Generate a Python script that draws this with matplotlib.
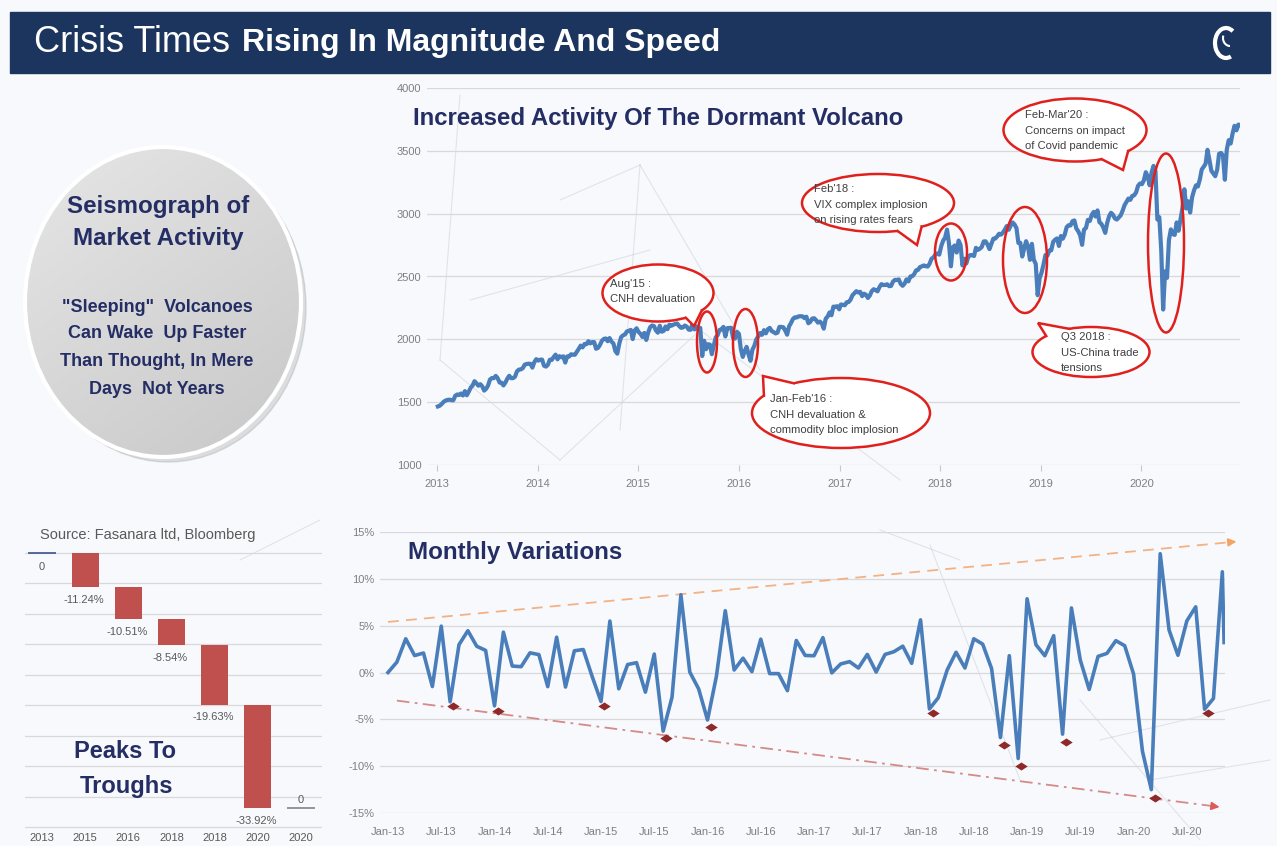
import matplotlib
matplotlib.use('Agg')
import matplotlib.pyplot as plt
from matplotlib.patches import Ellipse, Rectangle, Polygon, Arc
from matplotlib.colors import LinearSegmentedColormap
import numpy as np
import pandas as pd

W, H = 1277, 846

plt.rcParams['font.family'] = ['Liberation Sans', 'DejaVu Sans']

navy = '#242d64'
blue = '#4a7ebb'
grid_c = '#d9d9d9'
tick_c = '#7f7f7f'
red = '#e0201c'

# ---------------- data ----------------
# S&P 500, weekly closes (Fridays), 2013 - 2020
spx_2013 = [1466, 1472, 1486, 1503, 1513, 1518, 1520, 1516, 1515, 1551, 1561, 1557, 1569,
            1553, 1588, 1555, 1583, 1615, 1633, 1667, 1650, 1631, 1643, 1626, 1592, 1606,
            1632, 1680, 1692, 1691, 1709, 1691, 1656, 1655, 1633, 1656, 1687, 1710, 1691,
            1691, 1703, 1745, 1759, 1761, 1770, 1798, 1804, 1806, 1805, 1775, 1818, 1842]
spx_2014 = [1831, 1838, 1839, 1790, 1783, 1797, 1838, 1836, 1859, 1878, 1841, 1866, 1857,
            1865, 1815, 1864, 1863, 1881, 1878, 1877, 1900, 1924, 1950, 1936, 1963, 1961,
            1985, 1968, 1978, 1978, 1925, 1932, 1955, 1988, 2003, 2007, 1985, 2010, 1982,
            1967, 1906, 1886, 1964, 2018, 2032, 2039, 2063, 2068, 2075, 2002, 2070, 2088]
spx_2015 = [2058, 2044, 2019, 2051, 1995, 2055, 2097, 2110, 2105, 2071, 2053, 2108, 2061,
            2067, 2102, 2081, 2117, 2108, 2116, 2122, 2126, 2107, 2092, 2094, 2110, 2101,
            2077, 2076, 2127, 2079, 2103, 2077, 2091, 1867, 1989, 1921, 1961, 1958, 1882,
            1951, 2015, 2033, 2075, 2079, 2099, 2023, 2089, 2090, 2092, 2012, 2006, 2060]
spx_2016 = [2044, 1922, 1860, 1907, 1940, 1880, 1829, 1918, 1948, 1999, 2022, 2050, 2036,
            2073, 2048, 2081, 2091, 2065, 2058, 2047, 2053, 2099, 2099, 2096, 2071, 2037,
            2103, 2130, 2162, 2175, 2174, 2183, 2184, 2183, 2169, 2180, 2128, 2139, 2165,
            2168, 2153, 2133, 2141, 2126, 2085, 2164, 2182, 2214, 2192, 2260, 2259, 2264, 2239]
spx_2017 = [2277, 2275, 2271, 2295, 2297, 2316, 2351, 2367, 2383, 2373, 2378, 2344, 2363,
            2355, 2329, 2349, 2384, 2399, 2391, 2382, 2416, 2439, 2432, 2433, 2438, 2423,
            2425, 2459, 2473, 2472, 2477, 2441, 2426, 2443, 2477, 2461, 2500, 2502, 2519,
            2549, 2553, 2575, 2581, 2588, 2582, 2579, 2602, 2642, 2652, 2675, 2683, 2674]
spx_2018 = [2743, 2786, 2810, 2873, 2762, 2581, 2732, 2747, 2691, 2786, 2752, 2588, 2641,
            2604, 2656, 2670, 2670, 2663, 2728, 2712, 2721, 2735, 2779, 2780, 2754, 2718,
            2760, 2801, 2802, 2819, 2840, 2833, 2850, 2874, 2902, 2872, 2905, 2930, 2914,
            2885, 2767, 2768, 2659, 2723, 2781, 2736, 2633, 2760, 2633, 2600, 2351, 2486]
spx_2019 = [2532, 2596, 2671, 2665, 2707, 2708, 2776, 2793, 2803, 2743, 2822, 2801, 2834,
            2893, 2908, 2906, 2940, 2946, 2882, 2860, 2827, 2752, 2873, 2886, 2951, 2942,
            2990, 3014, 2977, 3026, 2932, 2919, 2889, 2847, 2926, 2979, 3007, 2992, 2962,
            2953, 2970, 2986, 3023, 3067, 3093, 3120, 3110, 3141, 3146, 3169, 3221, 3240]
spx_2020 = [3235, 3265, 3330, 3295, 3226, 3328, 3380, 3338, 2954, 2972, 2711, 2237, 2541,
            2489, 2790, 2875, 2837, 2831, 2930, 2864, 2955, 3044, 3194, 3041, 3098, 3009,
            3130, 3185, 3225, 3216, 3271, 3351, 3373, 3397, 3508, 3427, 3341, 3319, 3298,
            3348, 3477, 3483, 3465, 3270, 3510, 3585, 3558, 3638, 3699, 3663, 3709, 3703]

# monthly variations (%), Jan-13 .. Nov-20 plus the last partial reading
monthly_2013 = [0.00, 1.11, 3.60, 1.81, 2.08, -1.50, 4.95, -3.13, 2.97, 4.46, 2.80, 2.36]
monthly_2014 = [-3.56, 4.31, 0.69, 0.62, 2.10, 1.91, -1.51, 3.77, -1.55, 2.32, 2.45, -0.42]
monthly_2015 = [-3.10, 5.49, -1.74, 0.85, 1.05, -2.10, 1.97, -6.26, -2.64, 8.30, 0.05, -1.75]
monthly_2016 = [-5.07, -0.41, 6.60, 0.27, 1.53, 0.09, 3.56, -0.12, -0.12, -1.94, 3.42, 1.82]
monthly_2017 = [1.79, 3.72, -0.04, 0.91, 1.16, 0.48, 1.93, 0.05, 1.93, 2.22, 2.81, 0.98]
monthly_2018 = [5.62, -3.89, -2.69, 0.27, 2.16, 0.48, 3.60, 3.03, 0.43, -6.94, 1.79, -9.18]
monthly_2019 = [7.87, 2.97, 1.79, 3.93, -6.58, 6.89, 1.31, -1.81, 1.72, 2.04, 3.40, 2.86]
monthly_2020 = [-0.16, -8.41, -12.51, 12.68, 4.53, 1.84, 5.51, 7.01, -3.92, -2.77, 10.75]
monthly_last = 3.20
monthly_last_date = '2020-11-07'

# trough markers
trough_dates = ['2013-08-12', '2014-01-12', '2015-01-12', '2015-08-12', '2016-01-12', '2018-02-12',
                '2018-10-12', '2018-12-12', '2019-05-12', '2020-03-12', '2020-09-12']
trough_vals = [-3.6, -4.1, -3.6, -7.0, -5.8, -4.3, -7.7, -10.0, -7.4, -13.4, -4.3]

# trend channel (month offset, %)
upper_trend = [(0.0, 5.4), (95.9, 14.0)]
lower_trend = [(1.0, -3.0), (94.0, -14.4)]

# peaks to troughs waterfall
wf_labels = ['2013', '2015', '2016', '2018', '2018', '2020', '2020']
wf_changes = [0, -11.24, -10.51, -8.54, -19.63, -33.92, 0]


# ---------------- figure ----------------
fig = plt.figure(figsize=(W / 100, H / 100), dpi=100)
fig.patch.set_facecolor('#f7f9fc')


def px_axes(left, top, right, bottom, z):
    a = fig.add_axes([left / W, 1 - bottom / H, (right - left) / W, (bottom - top) / H], zorder=z)
    a.patch.set_alpha(0)
    return a


bg = fig.add_axes([0, 0, 1, 1], zorder=0)
bg.axis('off')

# faint network in the background
net = [((460, 95), (440, 360)), ((440, 360), (560, 460)), ((640, 165), (620, 430)), ((560, 200), (640, 165)),
       ((640, 165), (760, 370)), ((470, 300), (650, 250)), ((880, 530), (960, 560)), ((930, 545), (1020, 780)),
       ((1100, 740), (1270, 700)), ((1150, 780), (1270, 760)), ((1080, 700), (1200, 840)), ((240, 560), (320, 520)),
       ((700, 330), (900, 480)), ((560, 460), (700, 330))]
for a, b in net:
    bg.plot([a[0], b[0]], [a[1], b[1]], color='#9aa6b4', lw=0.8, alpha=0.25)

bg.add_patch(Rectangle((10, 12), 1260, 61, color='#1c355e', zorder=2))
bg.add_patch(Arc((1226, 43), 22, 30, theta1=70, theta2=300, color='white', lw=3, zorder=3))
bg.add_patch(Arc((1230, 38), 14, 16, theta1=90, theta2=200, color='white', lw=1.5, zorder=3))

# seismograph circle
bg.add_patch(Ellipse((168, 307), 276, 310, color='#9a9a9a', alpha=0.3, zorder=2))
circle = Ellipse((163, 302), 276, 310, facecolor='none', edgecolor='white', lw=3, zorder=4)
bg.add_patch(circle)
gy, gx = np.mgrid[0:1:100j, 0:1:100j]
grad_cmap = LinearSegmentedColormap.from_list('g', ['#e6e6e6', '#c8c8c8'])
im = bg.imshow(0.4 * gx + 0.6 * gy, extent=(25, 301, 457, 147), cmap=grad_cmap, aspect='auto', zorder=3)
im.set_clip_path(circle)
bg.set_xlim(0, W)
bg.set_ylim(H, 0)

bg.text(34, 43, 'Crisis Times', color='white', fontsize=26, va='center', ha='left', zorder=5)
bg.text(242, 43, 'Rising In Magnitude And Speed', color='white', fontsize=23,
        fontweight='bold', va='center', ha='left', zorder=5)

bg.text(158, 207, 'Seismograph of', color=navy, fontsize=17.4, fontweight='bold',
        ha='center', va='center', zorder=5)
bg.text(158, 239, 'Market Activity', color=navy, fontsize=17.4, fontweight='bold',
        ha='center', va='center', zorder=5)
for yy, line in zip([307, 334, 362, 389], ['"Sleeping"  Volcanoes', 'Can Wake  Up Faster',
                                            'Than Thought, In Mere', 'Days  Not Years']):
    bg.text(157, yy, line, color=navy, fontsize=13, fontweight='bold',
            ha='center', va='center', zorder=5)

bg.text(148, 535, 'Source: Fasanara ltd, Bloomberg', color='#595959', fontsize=10.5,
        ha='center', va='center')

# ---------------- top chart: index level ----------------
ax1 = px_axes(427, 88, 1240, 465, 2)
spx = spx_2013 + spx_2014 + spx_2015 + spx_2016 + spx_2017 + spx_2018 + spx_2019 + spx_2020
wk = pd.date_range('2013-01-04', periods=len(spx), freq='W-FRI')
wk_year = wk.year + (wk.dayofyear - 1) / 365.25
ax1.plot(wk_year, spx, color=blue, lw=3, solid_joinstyle='round')
ax1.set_xlim(2012.9, 2020.98)
ax1.set_ylim(1000, 4000)
ax1.set_yticks(range(1000, 4001, 500))
ax1.set_xticks(range(2013, 2021))
ax1.grid(axis='y', color=grid_c, lw=0.9)
ax1.set_axisbelow(True)
for s in ax1.spines.values():
    s.set_visible(False)
ax1.tick_params(axis='y', length=0, labelsize=8, labelcolor=tick_c, pad=4)
ax1.tick_params(axis='x', length=4, color='#c8c8c8', labelsize=8, labelcolor=tick_c, pad=6)

# ---------------- monthly variations ----------------
ax2 = px_axes(380, 532, 1225, 813, 2)
m_dates = list(pd.date_range('2013-01-01', periods=95, freq='MS')) + [pd.Timestamp(monthly_last_date)]
monthly = (monthly_2013 + monthly_2014 + monthly_2015 + monthly_2016 + monthly_2017 + monthly_2018
           + monthly_2019 + monthly_2020 + [monthly_last])


def month_pos(d):
    d = pd.Timestamp(d)
    return (d.year - 2013) * 12 + d.month - 1 + (d.day - 1) / 30.5


mx = [month_pos(d) for d in m_dates]
ax2.plot(mx, monthly, color=blue, lw=2.6, zorder=3, solid_joinstyle='round')
diamond = [(-1, 0), (0, 0.65), (1, 0), (0, -0.65)]
ax2.scatter([month_pos(d) for d in trough_dates], trough_vals, marker=diamond, s=80,
            color='#8e2a2a', zorder=4, linewidths=0)

(ux0, uy0), (ux1, uy1) = upper_trend
ax2.plot([ux0, ux1 - 0.8], [uy0, uy1 - 0.07], color='#f4b183', lw=1.3, ls=(0, (6, 4)), clip_on=False, zorder=2)
ax2.annotate('', xy=(ux1, uy1), xytext=(ux1 - 1.5, uy1 - 0.13),
             arrowprops=dict(arrowstyle='-|>', color='#f4a460', lw=1.2, mutation_scale=12),
             annotation_clip=False)
(lx0, ly0), (lx1, ly1) = lower_trend
ax2.plot([lx0, lx1 - 0.8], [ly0, ly1 + 0.1], color='#d48a88', lw=1.3, ls=(0, (7, 3, 1.5, 3)),
         clip_on=False, zorder=2)
ax2.annotate('', xy=(lx1, ly1), xytext=(lx1 - 1.5, ly1 + 0.18),
             arrowprops=dict(arrowstyle='-|>', color='#e05a5a', lw=1.2, mutation_scale=12),
             annotation_clip=False)

ax2.set_xlim(-0.9, 94.3)
ax2.set_ylim(-15, 15)
ax2.set_yticks(range(-15, 16, 5))
ax2.set_yticklabels([f'{v}%' for v in range(-15, 16, 5)])
tick_dates = pd.date_range('2013-01-01', '2020-07-01', freq='6MS')
ax2.set_xticks([month_pos(d) for d in tick_dates])
ax2.set_xticklabels([d.strftime('%b-%y') for d in tick_dates])
ax2.grid(axis='y', color=grid_c, lw=0.9)
ax2.set_axisbelow(True)
for s in ax2.spines.values():
    s.set_visible(False)
ax2.tick_params(axis='y', length=0, labelsize=8, labelcolor=tick_c, pad=4)
ax2.tick_params(axis='x', length=0, labelsize=8, labelcolor=tick_c, pad=10)

# ---------------- waterfall ----------------
ax3 = px_axes(25, 545, 322, 832, 2)
xs = np.arange(len(wf_labels))
ch = np.array(wf_changes)
ends = np.cumsum(ch)
starts = ends - ch
for i in xs:
    if ch[i] != 0:
        ax3.bar(i, ch[i], bottom=starts[i], width=0.63, color='#c0504d', zorder=3)
        ax3.annotate(f'{ch[i]:.2f}%', (i, ends[i]), xytext=(-1, -9), textcoords='offset points',
                     ha='center', va='center', fontsize=8, color='#595959')
    else:
        ax3.hlines(ends[i], i - 0.32, i + 0.32, color='#4a5f9a' if i == 0 else '#8c8c8c', lw=1.3, zorder=3)
        off = -10 if i == 0 else 6
        ax3.annotate('0', (i, ends[i]), xytext=(0, off), textcoords='offset points',
                     ha='center', va='center', fontsize=8, color='#595959')
ax3.set_xlim(-0.394, 6.486)
ax3.set_ylim(-91.66, 2.63)
ax3.set_yticks(range(-90, 1, 10))
ax3.set_yticklabels([])
ax3.set_xticks(xs)
ax3.set_xticklabels(wf_labels)
ax3.grid(axis='y', color=grid_c, lw=0.9)
ax3.set_axisbelow(True)
for s in ax3.spines.values():
    s.set_visible(False)
ax3.tick_params(axis='y', length=0)
ax3.tick_params(axis='x', length=0, labelsize=8, labelcolor='#595959', pad=1)

# ---------------- overlay: titles and call-outs ----------------
deco = fig.add_axes([0, 0, 1, 1], zorder=5)
deco.patch.set_alpha(0)
deco.axis('off')
deco.set_xlim(0, W)
deco.set_ylim(H, 0)

deco.text(413, 118, 'Increased Activity Of The Dormant Volcano', color=navy, fontsize=17.3,
          fontweight='bold', va='center')
deco.text(408, 552, 'Monthly Variations', color=navy, fontsize=17.4, fontweight='bold', va='center')
deco.text(125, 752, 'Peaks To', color=navy, fontsize=17, fontweight='bold', ha='center', va='center')
deco.text(126, 787, 'Troughs', color=navy, fontsize=17, fontweight='bold', ha='center', va='center')

# circles around the sell-offs
for (cx, cy, w, h) in [(707, 342, 20, 61), (745.5, 343, 25, 68), (951, 252, 32, 57),
                       (1025, 260, 44, 106), (1166, 243, 36, 179)]:
    deco.add_patch(Ellipse((cx, cy), w, h, facecolor='none', edgecolor=red, lw=1.8, zorder=3))


def bubble(cx, cy, w, h, tip, a1, a2, lines, tx, ty):
    deco.add_patch(Ellipse((cx, cy), w, h, facecolor='white', edgecolor=red, lw=1.8, zorder=4))

    def pt(a, r):
        t = np.radians(a)
        return cx + r * w / 2 * np.cos(t), cy - r * h / 2 * np.sin(t)

    p1, p2 = pt(a1, 1.0), pt(a2, 1.0)
    q1, q2 = pt(a1, 0.75), pt(a2, 0.75)
    deco.add_patch(Polygon([tip, p1, q1, q2, p2], closed=True, facecolor='white', edgecolor='none', zorder=5))
    deco.plot([p1[0], tip[0], p2[0]], [p1[1], tip[1], p2[1]], color=red, lw=1.8, zorder=6,
              solid_joinstyle='miter')
    for k, line in enumerate(lines):
        deco.text(tx, ty + k * 15.5, line, fontsize=8.1, color='#404040', va='center', ha='left', zorder=7)


bubble(658, 293, 111, 57, (694, 326), -60, -38, ["Aug'15 :", 'CNH devaluation'], 610, 284)
bubble(841, 413, 178, 70, (763, 376), 150, 122,
       ["Jan-Feb'16 :", 'CNH devaluation &', 'commodity bloc implosion'], 770, 399)
bubble(878, 203, 152, 58, (917, 245), -75, -55,
       ["Feb'18 :", 'VIX complex implosion', 'on rising rates fears'], 814, 189)
bubble(1091, 352, 117, 50, (1038, 323), 140, 112, ['Q3 2018 :', 'US-China trade', 'tensions'], 1061, 337)
bubble(1075, 130, 143, 63, (1123, 170), -68, -42,
       ["Feb-Mar'20 :", 'Concerns on impact', 'of Covid pandemic'], 1025, 115)

fig.savefig('out.png', dpi=100, facecolor=fig.get_facecolor())
